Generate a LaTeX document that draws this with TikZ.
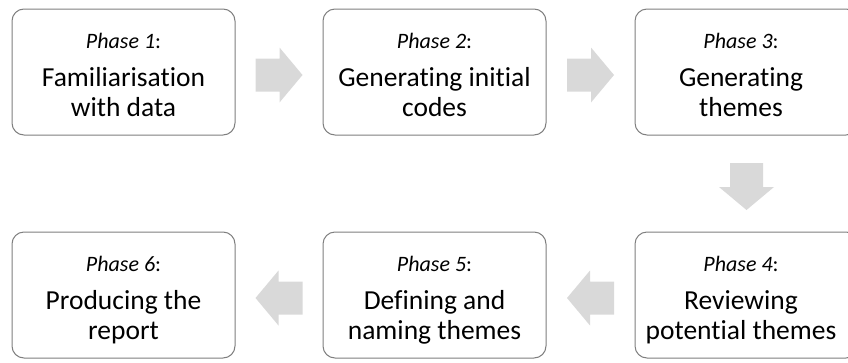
\documentclass[tikz,border=0pt]{standalone}
\usepackage{fontspec}
\setmainfont{Carlito}[Ligatures=NoCommon]
\usetikzlibrary{calc}

\definecolor{boxline}{HTML}{7F7F7F}
\definecolor{arrowfill}{HTML}{D9D9D9}

% two centred lines whose first baseline is the node's base
\newcommand{\boxlines}[2]{\begin{tabular}[t]{@{}c@{}}#1\\#2\end{tabular}}

\tikzset{
  phasebox/.style={draw=boxline, line width=1pt, rounded corners=12pt,
    fill=white, minimum width=223pt, minimum height=126pt, inner sep=0pt},
  phaselabel/.style={anchor=base, inner sep=0pt,
    font=\fontsize{22}{26}\selectfont},
  phasetitle/.style={anchor=base, inner sep=0pt,
    font=\fontsize{27.5}{30}\selectfont},
  blockarrow/.pic={
    \fill[arrowfill] (-23.5,-16.5) -- (0.5,-16.5) -- (0.5,-27.5) -- (23.5,0)
      -- (0.5,27.5) -- (0.5,16.5) -- (-23.5,16.5) -- cycle;
  }
}

\begin{document}
\begin{tikzpicture}[x=1pt, y=-1pt]
  \useasboundingbox (0,0) rectangle (848,362);

  % the six phase boxes
  \node[phasebox] (b1) at (123.5,72)  {};
  \node[phasebox] (b2) at (434.5,72)  {};
  \node[phasebox] (b3) at (746.5,72)  {};
  \node[phasebox] (b4) at (746.5,295) {};
  \node[phasebox] (b5) at (434.5,295) {};
  \node[phasebox] (b6) at (123.5,295) {};

  % phase numbers and names
  \node[phaselabel] (p1) at ($(b1.north)+(0,40)$) {\textit{Phase 1}:};
  \node[phasetitle] (t1) at ($(b1.north)+(0,78)$) {\boxlines{Familiarisation}{with data}};

  \node[phaselabel] (p2) at ($(b2.north)+(0,40)$) {\textit{Phase 2}:};
  \node[phasetitle] (t2) at ($(b2.north)+(0,78)$) {\boxlines{Generating initial}{codes}};

  \node[phaselabel] (p3) at ($(b3.north)+(-5.5,40)$) {\textit{Phase 3}:};
  \node[phasetitle] (t3) at ($(b3.north)+(-5.5,78)$) {\boxlines{Generating}{themes}};

  \node[phaselabel] (p4) at ($(b4.north)+(-5.5,40)$) {\textit{Phase 4}:};
  \node[phasetitle] (t4) at ($(b4.north)+(-5.5,78)$) {\boxlines{Reviewing}{potential themes}};

  \node[phaselabel] (p5) at ($(b5.north)+(0,40)$) {\textit{Phase 5}:};
  \node[phasetitle] (t5) at ($(b5.north)+(0,78)$) {\boxlines{Defining and}{naming themes}};

  \node[phaselabel] (p6) at ($(b6.north)+(0,40)$) {\textit{Phase 6}:};
  \node[phasetitle] (t6) at ($(b6.north)+(0,78)$) {\boxlines{Producing the}{report}};

  % block arrows between consecutive phases
  \pic at ($(b1.east)!0.5!(b2.west)+(0,3)$) {blockarrow};
  \pic at ($(b2.east)!0.5!(b3.west)+(0,3)$) {blockarrow};
  \pic[rotate=-90] at ($(b3.south)!0.5!(b4.north)+(0,3)$) {blockarrow};
  \pic[rotate=180] at ($(b4.west)!0.5!(b5.east)+(0,3)$) {blockarrow};
  \pic[rotate=180] at ($(b5.west)!0.5!(b6.east)+(0,3)$) {blockarrow};
\end{tikzpicture}
\end{document}
